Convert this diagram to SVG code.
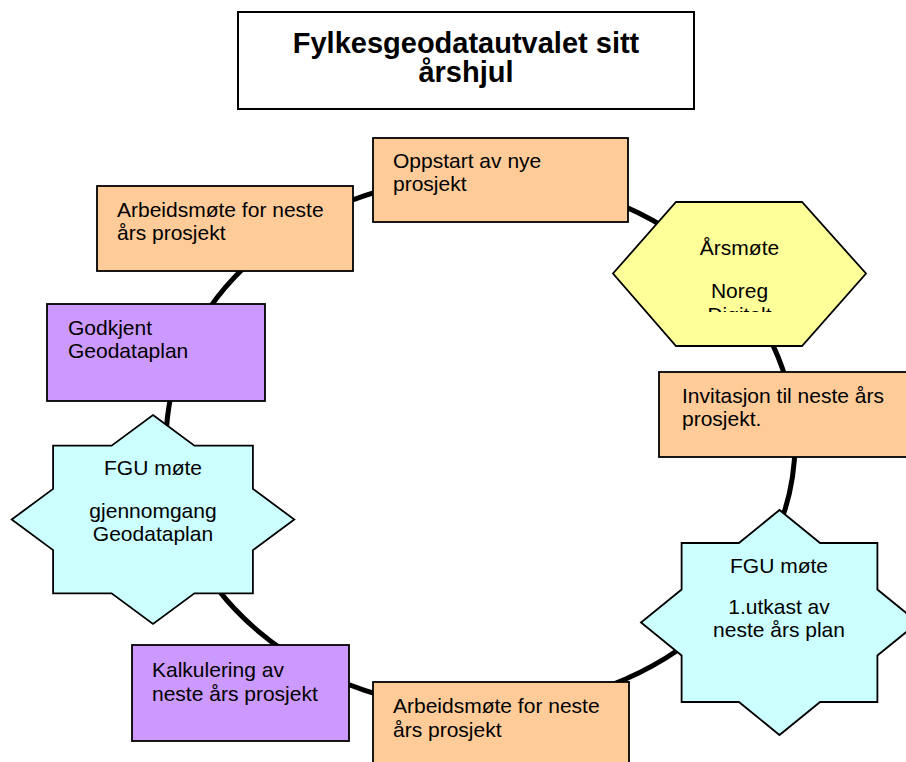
<svg xmlns="http://www.w3.org/2000/svg" width="906" height="762" viewBox="0 0 906 762">
<style>
text{font-family:"Liberation Sans",Arial,sans-serif;font-size:21px;fill:#000}
.title{font-size:29px;font-weight:bold;text-anchor:middle}
.c{text-anchor:middle}
.box{stroke:#000;stroke-width:1.8}
.orange{fill:#FFCC99}
.purple{fill:#CC99FF}
.cyan{fill:#CCFFFF}
.yellow{fill:#FFFF99}
.ring{fill:none;stroke:#000;stroke-width:5}
</style>
<defs>
<clipPath id="hexclip"><rect x="600" y="195" width="280" height="117"/></clipPath>
</defs>
<rect width="906" height="762" fill="#fff"/>
<g id="connectors">
<ellipse class="ring" cx="480.5" cy="443" rx="314.5" ry="266"/>
</g>
<g id="title">
<rect x="238" y="12" width="456" height="97" fill="#fff" stroke="#000" stroke-width="2"/>
<text class="title" x="466" y="53">Fylkesgeodatautvalet sitt</text>
<text class="title" x="466" y="82">årshjul</text>
</g>
<g id="oppstart">
<rect class="box orange" x="373" y="138" width="255" height="84"/>
<text x="393" y="168">Oppstart av nye</text>
<text x="393" y="191">prosjekt</text>
</g>
<g id="arbeidsmote-top">
<rect class="box orange" x="97" y="186" width="256" height="85"/>
<text x="117" y="217">Arbeidsmøte for neste</text>
<text x="117" y="240">års prosjekt</text>
</g>
<g id="arsmote">
<polygon class="box yellow" points="676,202 802,202 866,273.5 802,346 676,346 613,273.5"/>
<g clip-path="url(#hexclip)">
<text class="c" x="739.5" y="255">Årsmøte</text>
<text class="c" x="739.5" y="298">Noreg</text>
<text class="c" x="739.5" y="322">Digitalt</text>
</g>
</g>
<g id="godkjent">
<rect class="box purple" x="47" y="304" width="218" height="97"/>
<text x="68" y="335">Godkjent</text>
<text x="68" y="358">Geodataplan</text>
</g>
<g id="invitasjon">
<rect class="box orange" x="659" y="372" width="260" height="85"/>
<text x="682" y="403">Invitasjon til neste års</text>
<text x="682" y="426">prosjekt.</text>
</g>
<g id="fgu-left">
<polygon class="box cyan" points="153,415 194.4,445.6 252.9,445.6 252.9,488.9 294.3,519.5 252.9,550.1 252.9,593.4 194.4,593.4 153,624 111.6,593.4 53.1,593.4 53.1,550.1 11.7,519.5 53.1,488.9 53.1,445.6 111.6,445.6"/>
<text class="c" x="153" y="475">FGU møte</text>
<text class="c" x="153" y="518">gjennomgang</text>
<text class="c" x="153" y="541">Geodataplan</text>
</g>
<g id="fgu-right">
<polygon class="box cyan" points="779.5,510 820.1,543 877.4,543 877.4,589.5 918,622.5 877.4,655.5 877.4,702 820.1,702 779.5,735 738.9,702 681.6,702 681.6,655.5 641,622.5 681.6,589.5 681.6,543 738.9,543"/>
<text class="c" x="779" y="573">FGU møte</text>
<text class="c" x="779" y="614">1.utkast av</text>
<text class="c" x="779" y="637">neste års plan</text>
</g>
<g id="kalkulering">
<rect class="box purple" x="132" y="645" width="217" height="96"/>
<text x="152" y="677">Kalkulering av</text>
<text x="152" y="701">neste års prosjekt</text>
</g>
<g id="arbeidsmote-bottom">
<rect class="box orange" x="373" y="682" width="256" height="90"/>
<text x="393" y="713">Arbeidsmøte for neste</text>
<text x="393" y="737">års prosjekt</text>
</g>
</svg>
